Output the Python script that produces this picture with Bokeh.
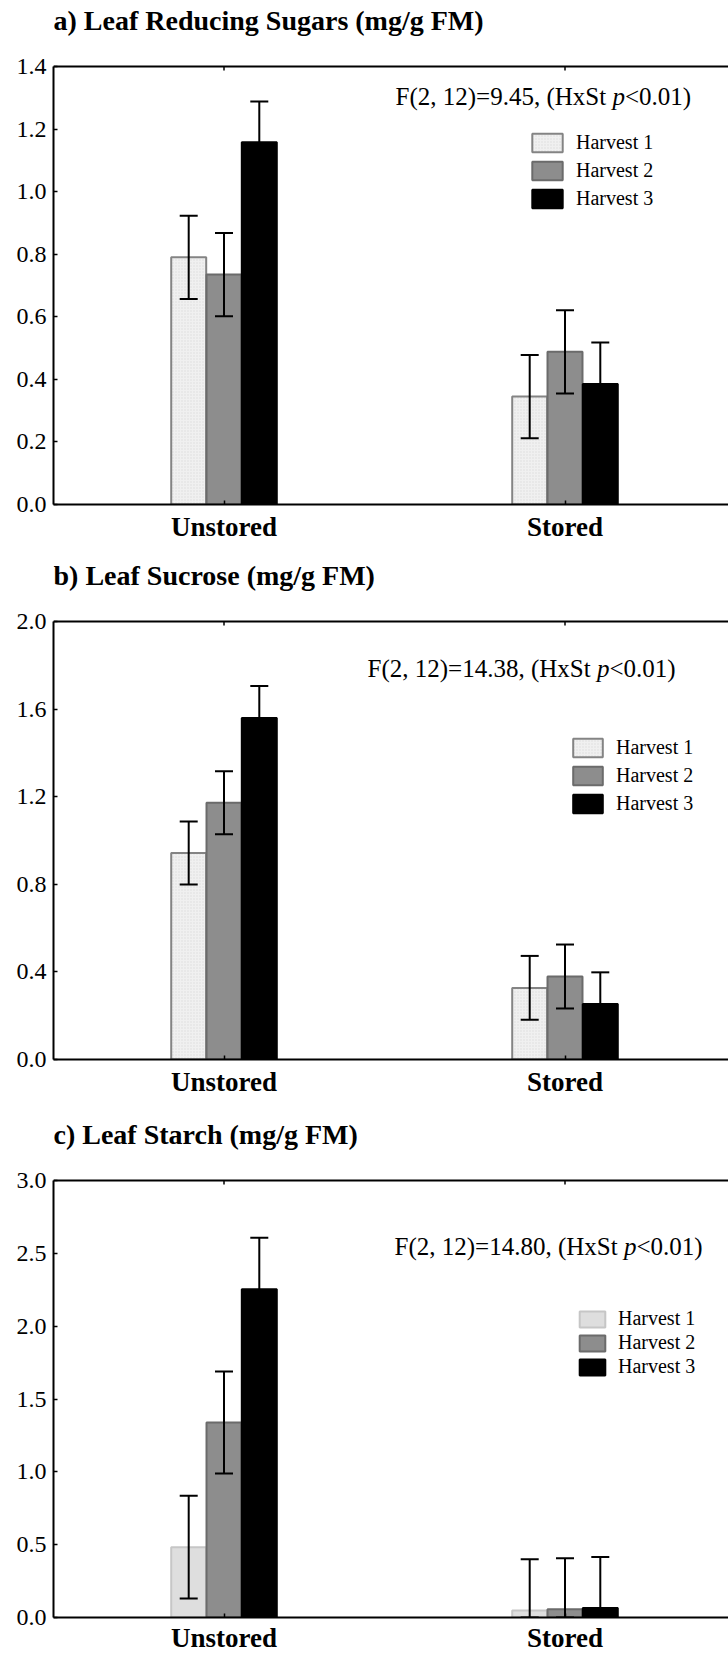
from bokeh.plotting import figure
from bokeh.models import (Range1d, FixedTicker, Label, Legend, LegendItem, Span,
                          Whisker, TeeHead, ColumnDataSource, NumeralTickFormatter)
from bokeh.layouts import column
from bokeh.embed import file_html
from bokeh.resources import INLINE

# ---------------- data ----------------
categories = ["Unstored", "Stored"]
harvests = ["Harvest 1", "Harvest 2", "Harvest 3"]

titles = ["a) Leaf Reducing Sugars (mg/g FM)",
          "b) Leaf Sucrose (mg/g FM)",
          "c) Leaf Starch (mg/g FM)"]
stat_texts = ["F(2, 12)=9.45, (HxSt ", "F(2, 12)=14.38, (HxSt ", "F(2, 12)=14.80, (HxSt "]
stat_tail = "<0.01)"

# a) reducing sugars: mean per category (Unstored, Stored)
sugar_h1 = [0.790, 0.345]
sugar_h2 = [0.735, 0.488]
sugar_h3 = [1.158, 0.385]
sugar_se_h1 = [0.133, 0.133]
sugar_se_h2 = [0.133, 0.133]
sugar_se_h3 = [0.130, 0.133]

# b) sucrose
sucrose_h1 = [0.943, 0.327]
sucrose_h2 = [1.172, 0.379]
sucrose_h3 = [1.559, 0.253]
sucrose_se_h1 = [0.144, 0.146]
sucrose_se_h2 = [0.144, 0.146]
sucrose_se_h3 = [0.147, 0.145]

# c) starch
starch_h1 = [0.483, 0.048]
starch_h2 = [1.339, 0.056]
starch_h3 = [2.253, 0.065]
starch_se_h1 = [0.352, 0.352]
starch_se_h2 = [0.350, 0.350]
starch_se_h3 = [0.354, 0.350]

yticks_a = [0.0, 0.2, 0.4, 0.6, 0.8, 1.0, 1.2, 1.4]
yticks_b = [0.0, 0.4, 0.8, 1.2, 1.6, 2.0]
yticks_c = [0.0, 0.5, 1.0, 1.5, 2.0, 2.5, 3.0]

# ---------------- styles / layout ----------------
FONT = "Liberation Serif"
FIG_W = 728
LEFT = 53
PX_PER_CAT = 341.0
BAR_W = 0.1026
DODGE = [-0.1035, 0.0, 0.1035]
TITLE_PX = 46   # title anchor above the plot top, px

h1_style_ab = dict(fill_color="#f0f0f0", line_color="#848484", hatch_pattern="dot",
                   hatch_color="#dcdcdc", hatch_scale=3, hatch_weight=1)
h1_style_c = dict(fill_color="#dedede", line_color="#c6c6c6")
h2_style = dict(fill_color="#8d8d8d", line_color="#6b6b6b")
h3_style = dict(fill_color="#000000", line_color="#000000")

panels = [
    dict(title=titles[0], stat=stat_texts[0], means=[sugar_h1, sugar_h2, sugar_h3],
         ses=[sugar_se_h1, sugar_se_h2, sugar_se_h3], yticks=yticks_a, ymax=1.4,
         fig_h=555, frame_h=504, plot_h=438, legend_xy=(475, 294), glyph=(38, 23),
         spacing=5, label_h=23, styles=[h1_style_ab, h2_style, h3_style],
         stat_xy=(1.503, 1.305), stat_w=216.9, x_standoff=7),
    dict(title=titles[1], stat=stat_texts[1], means=[sucrose_h1, sucrose_h2, sucrose_h3],
         ses=[sucrose_se_h1, sucrose_se_h2, sucrose_se_h3], yticks=yticks_b, ymax=2.0,
         fig_h=556, frame_h=504, plot_h=438, legend_xy=(516, 244), glyph=(37, 23),
         spacing=5, label_h=23, styles=[h1_style_ab, h2_style, h3_style],
         stat_xy=(1.421, 1.785), stat_w=229.4, x_standoff=7),
    dict(title=titles[2], stat=stat_texts[2], means=[starch_h1, starch_h2, starch_h3],
         ses=[starch_se_h1, starch_se_h2, starch_se_h3], yticks=yticks_c, ymax=3.0,
         fig_h=544, frame_h=506, plot_h=437, legend_xy=(523, 239), glyph=(32, 20),
         spacing=1, label_h=20, styles=[h1_style_c, h2_style, h3_style],
         stat_xy=(1.5, 2.545), stat_w=229.4, x_standoff=5),
]

base = [i + 1.0 for i in range(len(categories))]


def make_panel(cfg):
    ymax = cfg["ymax"]
    pxu = cfg["plot_h"] / ymax          # px per data unit
    y_end = cfg["frame_h"] / pxu
    x_end = 0.5 + (FIG_W - LEFT) / PX_PER_CAT
    p = figure(width=FIG_W, height=cfg["fig_h"], x_range=Range1d(0.5, x_end),
               y_range=Range1d(0, y_end), output_backend="svg",
               toolbar_location=None, min_border_left=LEFT, min_border_right=0,
               min_border_top=0, min_border_bottom=cfg["fig_h"] - cfg["frame_h"],
               outline_line_color=None, background_fill_color="white",
               border_fill_color="white")
    p.xgrid.visible = False
    p.ygrid.visible = False

    items = []
    for j, h in enumerate(harvests):
        m = cfg["means"][j]
        s = cfg["ses"][j]
        src = ColumnDataSource(dict(
            x=[b + DODGE[j] for b in base],
            top=m,
            upper=[mi + si for mi, si in zip(m, s)],
            lower=[max(mi - si, 0.0) for mi, si in zip(m, s)],
        ))
        r = p.vbar(x="x", top="top", bottom=0, width=BAR_W, source=src,
                   line_width=2, **cfg["styles"][j])
        items.append(LegendItem(label=h, renderers=[r]))
        wk = Whisker(source=src, base="x", upper="upper", lower="lower",
                     line_color="black", line_width=2, level="annotation",
                     upper_head=TeeHead(size=18, line_width=2, line_color="black"),
                     lower_head=TeeHead(size=18, line_width=2, line_color="black"))
        p.add_layout(wk)

    # top border of the plot area with inward category ticks
    p.add_layout(Span(location=ymax, dimension="width", line_color="black", line_width=2))
    tick_src = ColumnDataSource(dict(x=base, y0=[ymax] * len(base),
                                     y1=[ymax - 4 / pxu] * len(base)))
    p.segment(x0="x", y0="y0", x1="x", y1="y1", source=tick_src,
              line_color="black", line_width=1.5)

    # axes
    xa = p.xaxis[0]
    xa.ticker = FixedTicker(ticks=base)
    xa.major_label_overrides = {b: c for b, c in zip(base, categories)}
    xa.major_label_text_font = FONT
    xa.major_label_text_font_style = "bold"
    xa.major_label_text_font_size = "27px"
    xa.major_label_text_color = "black"
    xa.major_label_standoff = cfg["x_standoff"]
    xa.major_tick_in = 4
    xa.major_tick_out = 0
    xa.minor_tick_line_color = None
    xa.axis_line_width = 2
    xa.major_tick_line_width = 1.5

    ya = p.yaxis[0]
    ya.bounds = (0, ymax)
    ya.ticker = FixedTicker(ticks=cfg["yticks"])
    ya.formatter = NumeralTickFormatter(format="0.0")
    ya.major_label_text_font = FONT
    ya.major_label_text_font_size = "24px"
    ya.major_label_text_color = "black"
    ya.major_label_standoff = 7
    ya.major_tick_in = 4
    ya.major_tick_out = 0
    ya.minor_tick_line_color = None
    ya.axis_line_width = 2
    ya.major_tick_line_width = 1.5

    # legend
    gw, gh = cfg["glyph"]
    leg = Legend(items=items, location=cfg["legend_xy"], glyph_width=gw, glyph_height=gh,
                 label_height=cfg["label_h"], label_standoff=10, spacing=cfg["spacing"],
                 padding=0, margin=0, border_line_color=None, background_fill_alpha=0,
                 label_text_font=FONT, label_text_font_size="20px",
                 label_text_color="black")
    p.add_layout(leg)

    # panel title (inside the frame, above the plot area)
    p.add_layout(Label(x=0.5, y=ymax + TITLE_PX / pxu, text=cfg["title"],
                       text_font=FONT, text_font_style="bold", text_font_size="28px",
                       text_baseline="alphabetic", text_color="black"))

    # statistics annotation
    sx, sy = cfg["stat_xy"]
    common = dict(x=sx, y=sy, text_font=FONT, text_font_size="25px",
                  text_baseline="middle", text_color="black")
    p.add_layout(Label(text=cfg["stat"], **common))
    p.add_layout(Label(text="p", x_offset=cfg["stat_w"], text_font_style="italic", **common))
    p.add_layout(Label(text=stat_tail, x_offset=cfg["stat_w"] + 12.5, **common))
    return p


figs = [make_panel(c) for c in panels]
layout = column(*figs, spacing=0)

open("out.html", "w").write(file_html(layout, INLINE))
